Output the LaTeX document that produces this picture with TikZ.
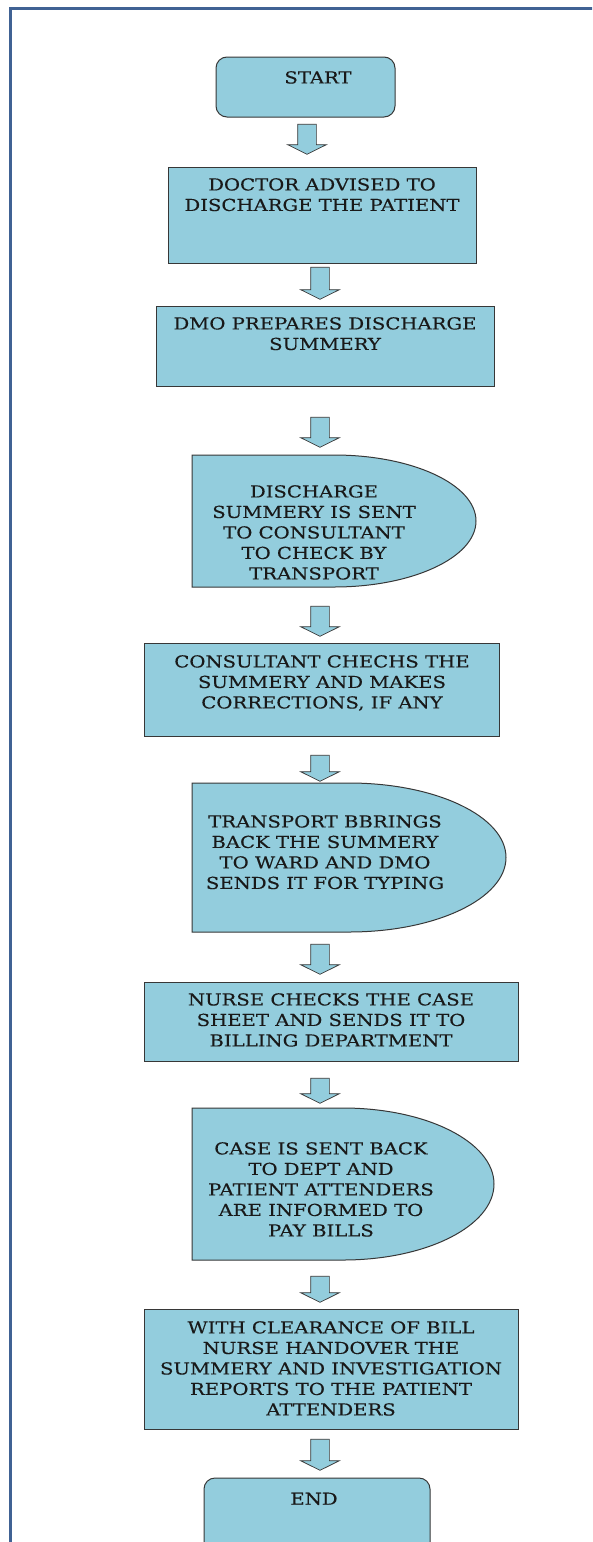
\documentclass[tikz,border=0pt]{standalone}
\usepackage{fontspec}
\setmainfont{DejaVu Serif}[FakeStretch=1.19,FakeBold=0.35]
\usetikzlibrary{shapes.arrows}
\definecolor{boxfill}{RGB}{147,205,221}
\definecolor{boxline}{RGB}{55,55,55}
\definecolor{framecol}{RGB}{64,98,148}
\definecolor{txtcol}{RGB}{25,25,25}
\begin{document}
\begin{tikzpicture}[x=1pt,y=1pt,
  box/.style={rectangle, draw=boxline, fill=boxfill, line width=1pt, inner sep=0pt, outer sep=0pt, anchor=north west},
  roundbox/.style={box, rounded corners=11pt},
  ghost/.style={rectangle, draw=none, fill=none, inner sep=0pt, outer sep=0pt, anchor=north west},
  dshape/.style={draw=boxline, fill=boxfill, line width=1pt},
  barrow/.style={single arrow, shape border rotate=270, draw=boxline, fill=boxfill, line width=0.7pt,
    inner sep=9pt, single arrow head extend=10pt, single arrow tip angle=127, outer sep=0pt},
  txt/.style={anchor=north, align=center, inner sep=0pt, text=txtcol, font=\fontsize{16.5}{20.5}\selectfont}
]
\useasboundingbox (0,0) rectangle (592,-1542);
\clip (0,0) rectangle (592,-1542);
\fill[white] (0,0) rectangle (592,-1542);

% frame
\draw[framecol, line width=3.2pt, line join=miter] (10.5,-1560) -- (10.5,-8.2) -- (610,-8.2);

% boxes
\node[roundbox, minimum width=179pt, minimum height=60pt] (start) at (216,-57) {};
\node[box, minimum width=308pt, minimum height=96pt] (b1) at (168,-167) {};
\node[box, minimum width=338pt, minimum height=80pt] (b2) at (156,-306) {};
\node[ghost, minimum width=284pt, minimum height=132pt] (d1) at (192,-455) {};
\node[box, minimum width=355pt, minimum height=93pt] (b3) at (144,-643) {};
\node[ghost, minimum width=314pt, minimum height=149pt] (d2) at (192,-783) {};
\node[box, minimum width=374pt, minimum height=79pt] (b4) at (144,-982) {};
\node[ghost, minimum width=302pt, minimum height=152pt] (d3) at (192,-1108) {};
\node[box, minimum width=374pt, minimum height=120pt] (b5) at (144,-1309) {};
\node[roundbox, minimum width=226pt, minimum height=80pt] (end) at (204,-1478) {};

% delay shapes
\draw[dshape] (d1.north west) -- (d1.north) arc[start angle=90, end angle=-90, x radius=142pt, y radius=66pt] -- (d1.south west) -- cycle;
\draw[dshape] (d2.north west) -- (d2.north) arc[start angle=90, end angle=-90, x radius=157pt, y radius=74.5pt] -- (d2.south west) -- cycle;
\draw[dshape] (d3.north west) -- (d3.north) arc[start angle=90, end angle=-90, x radius=151pt, y radius=76pt] -- (d3.south west) -- cycle;

% block arrows
\node[barrow, minimum height=30pt] (a1) at (307,-137) {};
\node[barrow, minimum height=32pt] (a2) at (320,-281) {};
\node[barrow, minimum height=30pt] (a3) at (320,-430) {};
\node[barrow, minimum height=30pt] (a4) at (320,-619) {};
\node[barrow, minimum height=26pt] (a5) at (320,-766) {};
\node[barrow, minimum height=30pt] (a6) at (320,-957) {};
\node[barrow, minimum height=25pt] (a7) at (320,-1088.5) {};
\node[barrow, minimum height=26pt] (a8) at (320,-1287) {};
\node[barrow, minimum height=31pt] (a9) at (320,-1452.5) {};

% texts
\node[txt] (t0) at (318,-71) {START};
\node[txt] (t1) at (322,-178) {DOCTOR ADVISED TO\\DISCHARGE THE PATIENT};
\node[txt] (t2) at (325,-317) {DMO PREPARES DISCHARGE\\SUMMERY};
\node[txt] (t3) at (314,-485) {DISCHARGE\\SUMMERY IS SENT\\TO CONSULTANT\\TO CHECK BY\\TRANSPORT};
\node[txt] (t4) at (322,-655) {CONSULTANT CHECHS THE\\SUMMERY AND MAKES\\CORRECTIONS, IF ANY};
\node[txt] (t5) at (325,-815) {TRANSPORT BBRINGS\\BACK THE SUMMERY\\TO WARD AND DMO\\SENDS IT FOR TYPING};
\node[txt] (t6) at (331,-993) {NURSE CHECKS THE CASE\\SHEET AND SENDS IT TO\\BILLING DEPARTMENT};
\node[txt] (t7) at (321,-1142) {CASE IS SENT BACK\\TO DEPT AND\\PATIENT ATTENDERS\\ARE INFORMED TO\\PAY BILLS};
\node[txt] (t8) at (331,-1321) {WITH CLEARANCE OF BILL\\NURSE HANDOVER THE\\SUMMERY AND INVESTIGATION\\REPORTS TO THE PATIENT\\ATTENDERS};
\node[txt] (t9) at (314,-1492.5) {END};
\end{tikzpicture}
\end{document}
